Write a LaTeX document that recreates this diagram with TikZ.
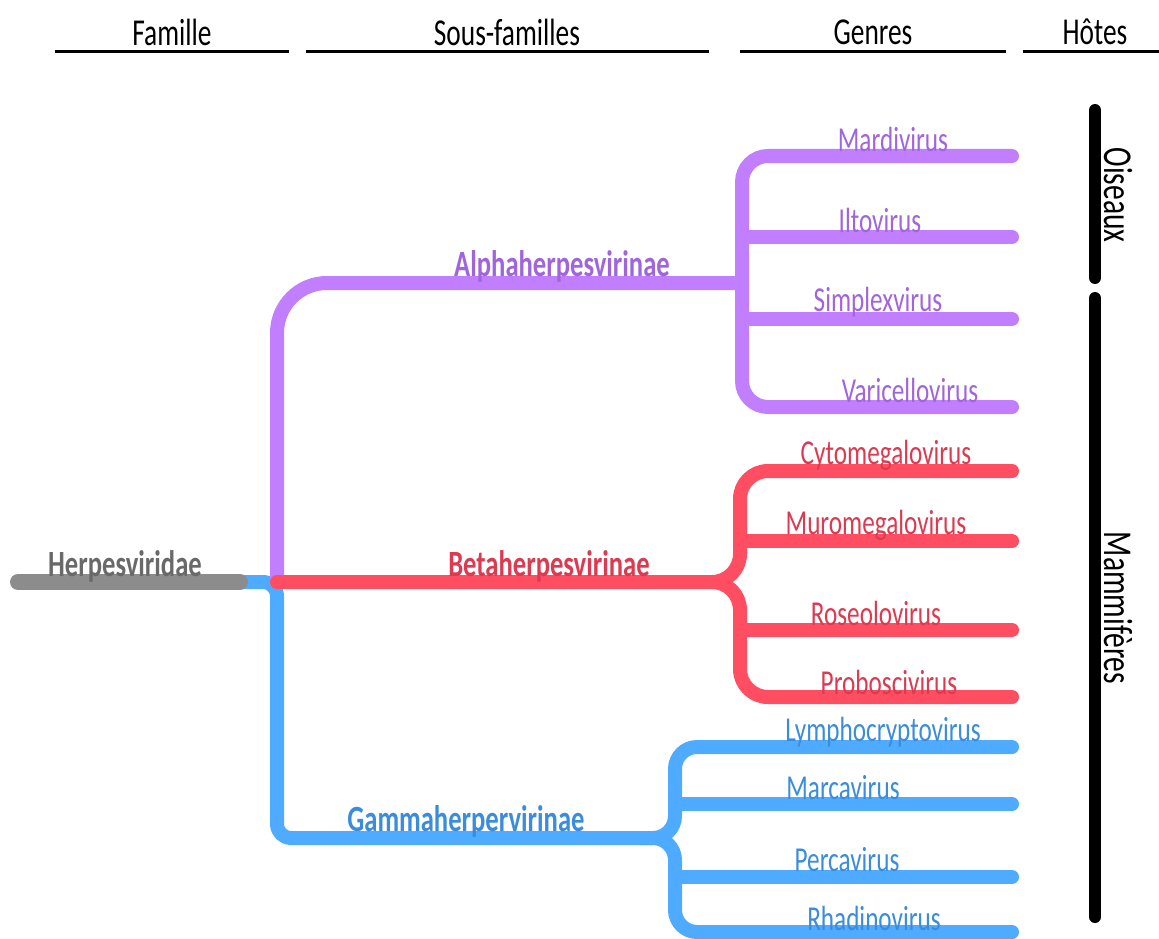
\documentclass[tikz,border=0pt]{standalone}
\usepackage{fontspec}
\setmainfont{Carlito}
\usepackage{graphicx}
\newcommand{\narw}[1]{\scalebox{0.72}[1]{#1}}
\definecolor{cpur}{RGB}{193,127,255}
\definecolor{cpurt}{RGB}{160,100,220}
\definecolor{cred}{RGB}{255,77,98}
\definecolor{credt}{RGB}{220,58,80}
\definecolor{cblu}{RGB}{79,171,255}
\definecolor{cblut}{RGB}{58,140,220}
\definecolor{cgry}{RGB}{140,140,140}
\definecolor{cgryt}{RGB}{105,105,105}
\begin{document}
\begin{tikzpicture}[x=1pt,y=-1pt,
  branch/.style={line width=14pt,line cap=round,line join=round},
  hdrline/.style={line width=3pt},
  hdr/.style={font=\fontsize{38}{44}\selectfont,inner sep=0pt},
  sub/.style={font=\fontsize{37}{42}\selectfont\bfseries,inner sep=0pt},
  gen/.style={font=\fontsize{35}{40}\selectfont,inner sep=0pt},
  host/.style={font=\fontsize{41}{46}\selectfont,inner sep=0pt,rotate=-90},
  hostbar/.style={line width=12pt,line cap=round}]
\useasboundingbox (0,0) rectangle (1159,939);
% headers
\node[hdr] (hFam) at (172,32) {\narw{Famille}};
\node[hdr] (hSub) at (507,32) {\narw{Sous-familles}};
\node[hdr] (hGen) at (873,32) {\narw{Genres}};
\node[hdr] (hHot) at (1095,32) {\narw{Hôtes}};
\draw[hdrline] (55,52) -- (289,52);
\draw[hdrline] (306,52) -- (709,52);
\draw[hdrline] (740,52) -- (1006,52);
\draw[hdrline] (1023,52) -- (1159,52);
% junction coordinates
\coordinate (root) at (18,582);
\coordinate (rootE) at (240,582);
\coordinate (split) at (277,582);
\coordinate (alphaJ) at (742,283);
\coordinate (betaJ) at (712,582);
\coordinate (gammaJ) at (640,838);
% leaf coordinates
\coordinate (mard) at (1012,156);
\coordinate (ilto) at (1012,237);
\coordinate (simp) at (1012,319);
\coordinate (vari) at (1012,407);
\coordinate (cyto) at (1012,471);
\coordinate (muro) at (1012,541);
\coordinate (rose) at (1012,630);
\coordinate (prob) at (1012,697);
\coordinate (lymp) at (1012,747);
\coordinate (marc) at (1012,804);
\coordinate (perc) at (1012,877);
\coordinate (rhad) at (1012,932);
% gamma (blue)
\draw[branch,cblu,rounded corners=14pt] (rootE) -- (split) -- (split |- gammaJ) -- (gammaJ);
\draw[branch,cblu,rounded corners=22pt] (gammaJ) -| (675,747) -- (lymp);
\draw[branch,cblu,rounded corners=22pt] (gammaJ) -| (675,932) -- (rhad);
\draw[branch,cblu] (675,804) -- (marc);
\draw[branch,cblu] (675,877) -- (perc);
% alpha (purple)
\draw[branch,cpur,rounded corners=50pt] (split) -- (split |- alphaJ) -- (alphaJ);
\draw[branch,cpur,rounded corners=26pt] (alphaJ) -- (alphaJ |- mard) -- (mard);
\draw[branch,cpur,rounded corners=26pt] (alphaJ) -- (alphaJ |- vari) -- (vari);
\draw[branch,cpur] (alphaJ |- ilto) -- (ilto);
\draw[branch,cpur] (alphaJ |- simp) -- (simp);
% beta (red)
\draw[branch,cred] (split) -- (betaJ);
\draw[branch,cred,rounded corners=28pt] (betaJ) -| (740,471) -- (cyto);
\draw[branch,cred,rounded corners=28pt] (betaJ) -| (740,697) -- (prob);
\draw[branch,cred] (740,541) -- (muro);
\draw[branch,cred] (740,630) -- (rose);
% family (gray)
\draw[branch,cgry,line width=16pt] (root) -- (rootE);
% labels
\node[sub,cgryt] (lHerp) at (125,566) {\narw{Herpesviridae}};
\node[sub,cpurt] (lAlpha) at (562,266) {\narw{Alphaherpesvirinae}};
\node[sub,credt] (lBeta) at (549,566) {\narw{Betaherpesvirinae}};
\node[sub,cblut] (lGamma) at (466,821) {\narw{Gammaherpervirinae}};
\node[gen,cpurt] (lMard) at (893,139) {\narw{Mardivirus}};
\node[gen,cpurt] (lIlto) at (880,220) {\narw{Iltovirus}};
\node[gen,cpurt] (lSimp) at (878,302) {\narw{Simplexvirus}};
\node[gen,cpurt] (lVari) at (910,390) {\narw{Varicellovirus}};
\node[gen,credt] (lCyto) at (886,455) {\narw{Cytomegalovirus}};
\node[gen,credt] (lMuro) at (876,525) {\narw{Muromegalovirus}};
\node[gen,credt] (lRose) at (876,613) {\narw{Roseolovirus}};
\node[gen,credt] (lProb) at (889,682) {\narw{Proboscivirus}};
\node[gen,cblut] (lLymp) at (883,732) {\narw{Lymphocryptovirus}};
\node[gen,cblut] (lMarc) at (843,788) {\narw{Marcavirus}};
\node[gen,cblut] (lPerc) at (847,860) {\narw{Percavirus}};
\node[gen,cblut] (lRhad) at (874,918) {\narw{Rhadinovirus}};
% hosts
\draw[hostbar] (1095,110) -- (1095,278);
\draw[hostbar] (1095,298) -- (1095,917);
\node[host] (lOis) at (1118,195) {\narw{Oiseaux}};
\node[host] (lMam) at (1118,608) {\narw{Mammifères}};
\end{tikzpicture}
\end{document}
